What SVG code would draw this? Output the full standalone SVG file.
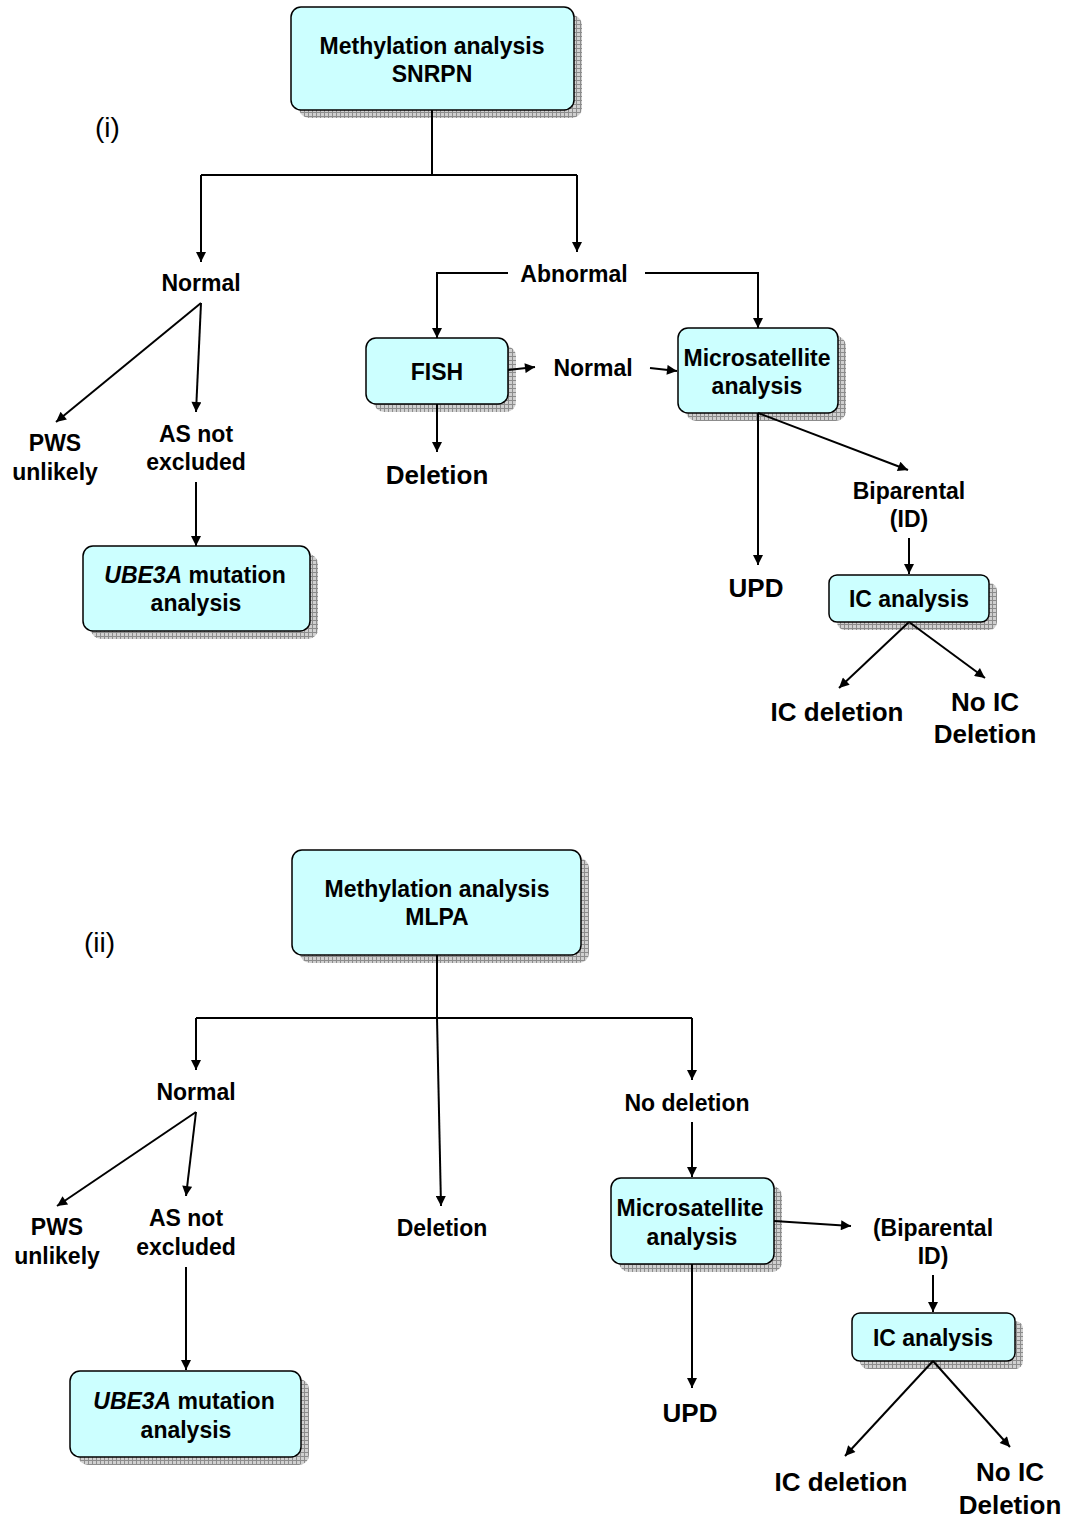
<svg xmlns="http://www.w3.org/2000/svg" width="1067" height="1518" viewBox="0 0 1067 1518">
<defs>
<pattern id="hatch" width="4" height="4" patternUnits="userSpaceOnUse">
<rect width="4" height="4" fill="#d0d0d0"/>
<path d="M0,0.5H4M0.5,0V4" stroke="#8c8c8c" stroke-width="1"/>
</pattern>
<marker id="ah" viewBox="0 0 10 10" refX="10" refY="5" markerWidth="12" markerHeight="10" markerUnits="userSpaceOnUse" orient="auto">
<path d="M0,0L10,5L0,10z" fill="#000"/>
</marker>
<style>
.box{fill:#ccffff;stroke:#000;stroke-width:1.5}
.sh{fill:url(#hatch)}
.t{font-family:"Liberation Sans",Arial,sans-serif;font-weight:bold;font-size:23px;text-anchor:middle;fill:#000}
.big{font-size:26px}
.lab{font-family:"Liberation Sans",Arial,sans-serif;font-size:28px;fill:#000}
.c{fill:none;stroke:#000;stroke-width:2}
.a{marker-end:url(#ah)}
</style>
</defs>
<rect width="1067" height="1518" fill="#fff"/>

<g id="label-i"><text class="lab" x="95" y="137">(i)</text></g>
<g id="label-ii"><text class="lab" x="84" y="952">(ii)</text></g>

<g id="n-meth1">
<rect class="sh" x="299" y="15" width="283" height="103" rx="10"/>
<rect class="box" x="291" y="7" width="283" height="103" rx="10"/>
<text class="t" x="432" y="54">Methylation analysis</text>
<text class="t" x="432" y="82">SNRPN</text>
</g>
<g id="n-normal1"><text class="t" x="201" y="291">Normal</text></g>
<g id="n-abnormal"><text class="t" x="574" y="282">Abnormal</text></g>
<g id="n-fish">
<rect class="sh" x="374" y="346" width="142" height="66" rx="10"/>
<rect class="box" x="366" y="338" width="142" height="66" rx="10"/>
<text class="t" x="437" y="380">FISH</text>
</g>
<g id="n-normal-fish"><text class="t" x="593" y="376">Normal</text></g>
<g id="n-micro1">
<rect class="sh" x="686" y="336" width="160" height="85" rx="10"/>
<rect class="box" x="678" y="328" width="160" height="85" rx="10"/>
<text class="t" x="757" y="366">Microsatellite</text>
<text class="t" x="757" y="394">analysis</text>
</g>
<g id="n-deletion1"><text class="t big" x="437" y="484">Deletion</text></g>
<g id="n-upd1"><text class="t big" x="756" y="597">UPD</text></g>
<g id="n-bip1">
<text class="t" x="909" y="499">Biparental</text>
<text class="t" x="909" y="527">(ID)</text>
</g>
<g id="n-ic1">
<rect class="sh" x="837" y="583" width="160" height="47" rx="8"/>
<rect class="box" x="829" y="575" width="160" height="47" rx="8"/>
<text class="t" x="909" y="607">IC analysis</text>
</g>
<g id="n-icdel1"><text class="t big" x="837" y="721">IC deletion</text></g>
<g id="n-noic1">
<text class="t big" x="985" y="711">No IC</text>
<text class="t big" x="985" y="743">Deletion</text>
</g>
<g id="n-pws1">
<text class="t" x="55" y="451">PWS</text>
<text class="t" x="55" y="480">unlikely</text>
</g>
<g id="n-as1">
<text class="t" x="196" y="442">AS not</text>
<text class="t" x="196" y="470">excluded</text>
</g>
<g id="n-ube1">
<rect class="sh" x="91" y="554" width="227" height="85" rx="10"/>
<rect class="box" x="83" y="546" width="227" height="85" rx="10"/>
<text class="t" x="195" y="583"><tspan font-style="italic">UBE3A</tspan> mutation</text>
<text class="t" x="196" y="611">analysis</text>
</g>

<g id="n-meth2">
<rect class="sh" x="300" y="858" width="289" height="105" rx="10"/>
<rect class="box" x="292" y="850" width="289" height="105" rx="10"/>
<text class="t" x="437" y="897">Methylation analysis</text>
<text class="t" x="437" y="925">MLPA</text>
</g>
<g id="n-normal2"><text class="t" x="196" y="1100">Normal</text></g>
<g id="n-pws2">
<text class="t" x="57" y="1235">PWS</text>
<text class="t" x="57" y="1264">unlikely</text>
</g>
<g id="n-as2">
<text class="t" x="186" y="1226">AS not</text>
<text class="t" x="186" y="1255">excluded</text>
</g>
<g id="n-ube2">
<rect class="sh" x="78" y="1379" width="231" height="86" rx="10"/>
<rect class="box" x="70" y="1371" width="231" height="86" rx="10"/>
<text class="t" x="184" y="1409"><tspan font-style="italic">UBE3A</tspan> mutation</text>
<text class="t" x="186" y="1438">analysis</text>
</g>
<g id="n-deletion2"><text class="t" x="442" y="1236">Deletion</text></g>
<g id="n-nodel"><text class="t" x="687" y="1111">No deletion</text></g>
<g id="n-micro2">
<rect class="sh" x="619" y="1186" width="163" height="86" rx="10"/>
<rect class="box" x="611" y="1178" width="163" height="86" rx="10"/>
<text class="t" x="690" y="1216">Microsatellite</text>
<text class="t" x="692" y="1245">analysis</text>
</g>
<g id="n-bip2">
<text class="t" x="933" y="1236">(Biparental</text>
<text class="t" x="933" y="1264">ID)</text>
</g>
<g id="n-ic2">
<rect class="sh" x="860" y="1321" width="163" height="48" rx="8"/>
<rect class="box" x="852" y="1313" width="163" height="48" rx="8"/>
<text class="t" x="933" y="1346">IC analysis</text>
</g>
<g id="n-upd2"><text class="t big" x="690" y="1422">UPD</text></g>
<g id="n-icdel2"><text class="t big" x="841" y="1491">IC deletion</text></g>
<g id="n-noic2">
<text class="t big" x="1010" y="1481">No IC</text>
<text class="t big" x="1010" y="1514">Deletion</text>
</g>

<g id="connectors">
<!-- panel i -->
<path class="c" d="M432,110V175"/>
<path class="c" d="M201,175H577"/>
<path class="c a" d="M201,175V262"/>
<path class="c a" d="M577,175V252"/>
<path class="c a" d="M508,273H437V338"/>
<path class="c a" d="M645,273H758V328"/>
<path class="c a" d="M508,370L535,367"/>
<path class="c a" d="M650,368L677,371"/>
<path class="c a" d="M437,404V452"/>
<path class="c a" d="M758,413V565"/>
<path class="c a" d="M758,413L908,470"/>
<path class="c a" d="M909,538V574"/>
<path class="c a" d="M909,622L839,688"/>
<path class="c a" d="M909,622L985,678"/>
<path class="c a" d="M201,303L56,422"/>
<path class="c a" d="M201,303L196,412"/>
<path class="c a" d="M196,482V546"/>
<!-- panel ii -->
<path class="c" d="M437,955V1018"/>
<path class="c" d="M196,1018H692"/>
<path class="c a" d="M196,1018V1070"/>
<path class="c a" d="M692,1018V1080"/>
<path class="c a" d="M437,1018L441,1206"/>
<path class="c a" d="M196,1112L57,1206"/>
<path class="c a" d="M196,1112L186,1196"/>
<path class="c a" d="M186,1267V1370"/>
<path class="c a" d="M692,1122V1177"/>
<path class="c a" d="M774,1221L851,1226"/>
<path class="c a" d="M933,1275V1312"/>
<path class="c a" d="M933,1361L845,1456"/>
<path class="c a" d="M933,1361L1010,1447"/>
<path class="c a" d="M692,1264V1388"/>
</g>
</svg>
